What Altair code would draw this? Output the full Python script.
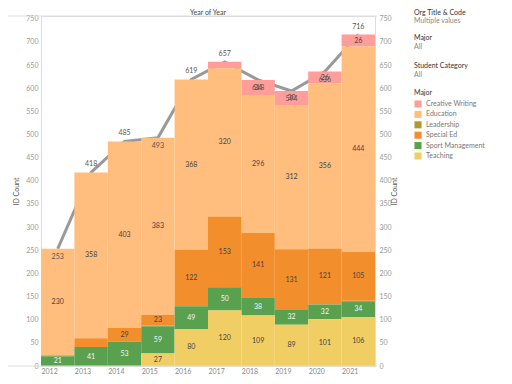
import altair as alt
import pandas as pd

FONT = "Lato"

years = [2012, 2013, 2014, 2015, 2016, 2017, 2018, 2019, 2020, 2021]
majors = ["Creative Writing", "Education", "Leadership", "Special Ed", "Sport Management", "Teaching"]
colors = ["#FF9D9A", "#FFBE7D", "#B6992D", "#F28E2B", "#59A14F", "#F1CE63"]
stack_rank = [5, 4, 2, 3, 1, 0]  # 0 = bottom of the stack

creative_writing = [0, 0, 0, 0, 0, 14, 34, 30, 26, 26]
education = [230, 358, 403, 383, 368, 320, 296, 312, 356, 444]
leadership = [0, 0, 0, 1, 0, 0, 0, 0, 0, 1]
special_ed = [2, 19, 29, 23, 122, 153, 141, 131, 121, 105]
sport_management = [21, 41, 53, 59, 49, 50, 38, 32, 32, 34]
teaching = [0, 0, 0, 27, 80, 120, 109, 89, 101, 106]
totals = [253, 418, 485, 493, 619, 657, 618, 594, 636, 716]
total_label_below = [2012, 2015, 2018, 2019, 2020]

series = [creative_writing, education, leadership, special_ed, sport_management, teaching]
rows = []
for m, vals, r in zip(majors, series, stack_rank):
    for yr, v in zip(years, vals):
        rows.append({"year": str(yr), "major": m, "count": v, "rank": r})
df = pd.DataFrame(rows)
tot = pd.DataFrame({
    "year": [str(y) for y in years],
    "total": totals,
    "pos": ["below" if y in total_label_below else "above" for y in years],
})

W, H = 334, 350
ydom = [0, 756]

def yscale():
    return alt.Scale(domain=ydom, nice=False, zero=True)

xenc = alt.X(
    "year:O", title=None,
    axis=alt.Axis(labelAngle=0, labelColor="#888", labelFontSize=7, labelFont=FONT,
                  ticks=False, domain=False, labelPadding=5),
)
xc = alt.X("year:O", bandPosition=0.5)

left_axis = alt.Axis(
    values=list(range(0, 751, 50)), title="ID Count", titleFontSize=7, titleColor="#555",
    titleFontWeight="normal", titleFont=FONT, titlePadding=6,
    labelColor="#999", labelFontSize=7, labelFont=FONT, ticks=False, labelPadding=3,
    domainColor="#ddd", gridColor="#f0f0f0",
)
right_axis = alt.Axis(
    orient="right", values=list(range(0, 751, 50)), title="ID Count", titleFontSize=7,
    titleColor="#555", titleFontWeight="normal", titleFont=FONT, titleAngle=270,
    titlePadding=6, labelColor="#999", labelFontSize=7, labelFont=FONT, ticks=False,
    labelPadding=4, domainColor="#ddd", grid=False,
)

line = alt.Chart(tot).mark_line(color="#999999", strokeWidth=3).encode(
    x=xc, y=alt.Y("total:Q", scale=yscale(), axis=right_axis)
)

bars = alt.Chart(df).mark_bar().encode(
    x=xenc,
    y=alt.Y("count:Q", stack=True, scale=yscale(), axis=left_axis),
    color=alt.Color(
        "major:N", scale=alt.Scale(domain=majors, range=colors),
        legend=alt.Legend(
            title="Major", orient="none", legendX=373, legendY=73,
            titleFontSize=7, titleColor="#333", titleFontWeight="normal", titleFont=FONT,
            labelFontSize=7, labelColor="#777", labelFont=FONT, symbolType="square",
            symbolSize=50, symbolStrokeWidth=0, rowPadding=2.4, titlePadding=4,
        ),
    ),
    order=alt.Order("rank:Q", sort="ascending"),
)

seg_labels = alt.Chart(df).transform_stack(
    stack="count", groupby=["year"], as_=["y0", "y1"],
    sort=[alt.SortField("rank", order="ascending")],
).transform_calculate(mid="(datum.y0 + datum.y1) / 2").transform_filter(
    "datum.count >= 20"
).mark_text(fontSize=7, font=FONT, baseline="middle").encode(
    x=xc,
    y=alt.Y("mid:Q", scale=yscale(), axis=None),
    text="count:Q",
    color=alt.condition("datum.major == 'Sport Management'", alt.value("#f4f4f4"), alt.value("#444")),
)

tot_above = alt.Chart(tot).transform_filter("datum.pos == 'above'").mark_text(
    fontSize=7, font=FONT, baseline="middle", dy=-8, color="#555"
).encode(x=xc, y=alt.Y("total:Q", scale=yscale(), axis=None), text="total:Q")

tot_below = alt.Chart(tot).transform_filter("datum.pos == 'below'").mark_text(
    fontSize=7, font=FONT, baseline="middle", dy=8, color="#555"
).encode(x=xc, y=alt.Y("total:Q", scale=yscale(), axis=None), text="total:Q")

one = pd.DataFrame({"a": [0]})

def note(txt, x, y, color, size=7, align="left"):
    return alt.Chart(one).mark_text(
        text=txt, align=align, baseline="middle", fontSize=size, color=color, font=FONT
    ).encode(x=alt.value(x), y=alt.value(y))

def hline(y):
    return alt.Chart(one).mark_rule(color="#dddddd", strokeWidth=1).encode(
        x=alt.value(-35), x2=alt.value(W + 2), y=alt.value(y)
    )

notes = [
    note("Year of Year", W / 2, -3.5, "#444", align="center"),
    note("Org Title & Code", 373, -3.5, "#333"),
    note("Multiple values", 373, 5, "#888"),
    note("Major", 373, 22, "#333"),
    note("All", 373, 31, "#888"),
    note("Student Category", 373, 50, "#333"),
    note("All", 373, 59, "#888"),
]

chart = alt.layer(
    line, bars, seg_labels, tot_above, tot_below, hline(0), hline(H), *notes
).resolve_scale(y="independent").properties(
    width=W, height=H,
    autosize=alt.AutoSizeParams(type="none"),
    padding={"left": 33, "top": 8, "right": 129, "bottom": 10},
).configure_view(stroke=None).configure_scale(
    bandPaddingInner=0.03, bandPaddingOuter=0
).configure(background="white")

chart.save("out.html", embed_options={"renderer": "svg", "actions": False})
